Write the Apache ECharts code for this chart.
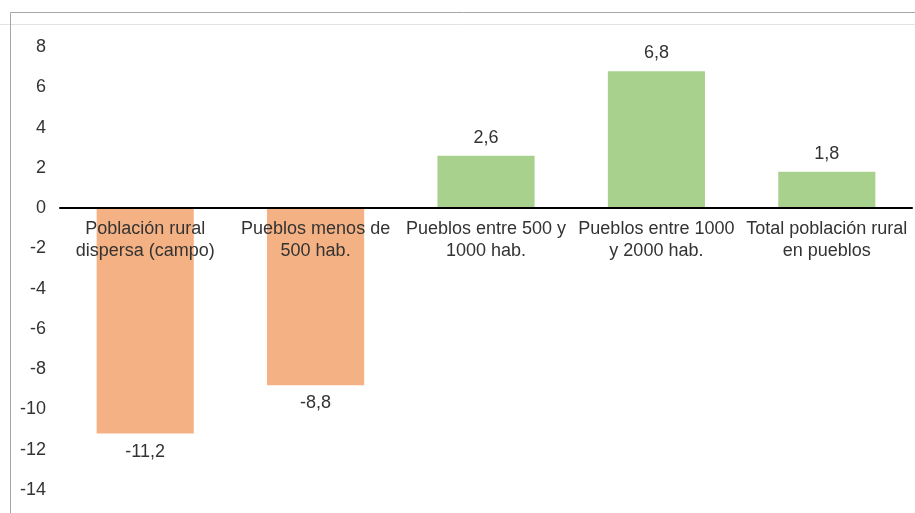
<!DOCTYPE html>
<html>
<head>
<meta charset="utf-8">
<script src="https://cdn.jsdelivr.net/npm/echarts@6/dist/echarts.min.js"></script>
<style>
  html, body { margin: 0; padding: 0; background: #fff; }
  #chart { width: 915px; height: 513px; }
</style>
</head>
<body>
<div id="chart"></div>
<script>
// datos
var categorias = [
  'Población rural\ndispersa (campo)',
  'Pueblos menos de\n500 hab.',
  'Pueblos entre 500 y\n1000 hab.',
  'Pueblos entre 1000\ny 2000 hab.',
  'Total población rural\nen pueblos'
];
var valores = [-11.2, -8.8, 2.6, 6.8, 1.8];
var colorNeg = '#f4b183';
var colorPos = '#a9d18e';

var yMin = -14, yMax = 8;
var gridTop = 47, gridBottom = 23;
// altura del gráfico para colocar el eje x en el cero
var plotH = 513 - gridTop - gridBottom;
var zeroOffset = -plotH * (0 - yMin) / (yMax - yMin);

var myChart = echarts.init(document.getElementById('chart'));

var option = {
  animation: false,
  textStyle: { fontFamily: 'Arial, "Liberation Sans", sans-serif' },
  graphic: [
    {
      type: 'line',
      shape: { x1: 0, y1: 24.5, x2: 915, y2: 24.5 },
      style: { stroke: '#e2e2e2', lineWidth: 1 }
    },
    {
      type: 'rect',
      shape: { x: 10.5, y: 12.5, width: 920, height: 520 },
      style: { fill: 'none', stroke: '#a6a6a6', lineWidth: 1 }
    }
  ],
  grid: {
    left: 60, right: 3, top: gridTop, bottom: gridBottom,
    containLabel: false, outerBoundsMode: 'none'
  },
  xAxis: {
    type: 'category',
    data: categorias,
    offset: zeroOffset,
    axisLine: { onZero: false, lineStyle: { color: '#000', width: 2 } },
    axisTick: { show: false },
    axisLabel: {
      color: '#333',
      fontSize: 18,
      lineHeight: 22,
      margin: 10,
      interval: 0
    },
    z: 10
  },
  yAxis: {
    type: 'value',
    min: yMin,
    max: yMax,
    interval: 2,
    axisLine: { show: false },
    axisTick: { show: false },
    splitLine: { show: false },
    axisLabel: { color: '#333', fontSize: 18, margin: 14 }
  },
  series: [
    {
      type: 'bar',
      data: valores.map(function (v) {
        return { value: v, itemStyle: { color: v < 0 ? colorNeg : colorPos } };
      }),
      barWidth: '57%',
      label: {
        show: true,
        position: 'outside',
        color: '#333',
        fontSize: 18,
        distance: 9,
        formatter: function (p) { return String(p.value).replace('.', ','); }
      }
    }
  ]
};

myChart.setOption(option);
</script>
</body>
</html>
